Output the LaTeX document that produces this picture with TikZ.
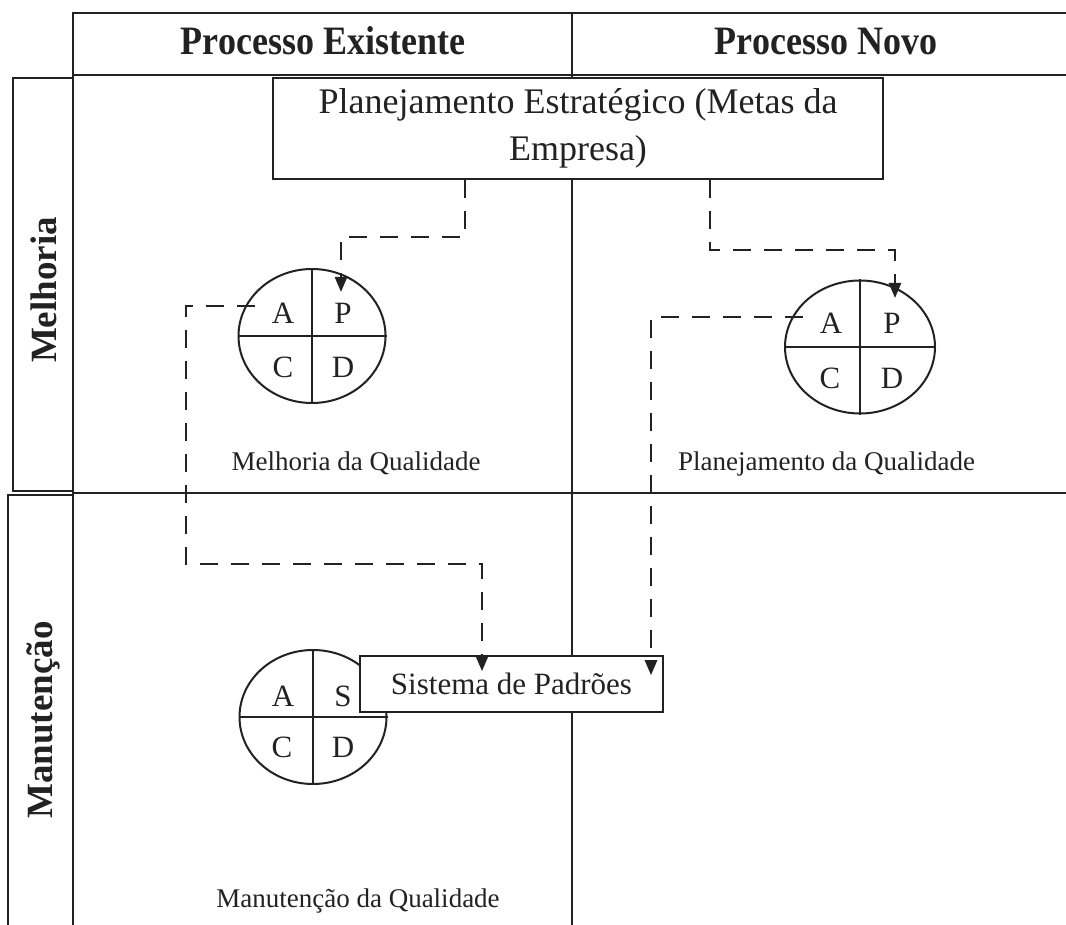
\documentclass[tikz,border=0pt]{standalone}
\usepackage{fontspec}
\usepackage{graphicx}
\setmainfont{Liberation Serif}
\usetikzlibrary{arrows.meta,shapes.geometric,calc}
\definecolor{ink}{HTML}{222222}

\begin{document}
\begin{tikzpicture}[x=1pt,y=-1pt,
  frame/.style={draw=ink,line width=1.8pt},
  hdr/.style={text=ink,inner sep=0pt,anchor=base,font=\fontsize{36}{40}\selectfont\bfseries},
  rowlab/.style={text=ink,inner sep=0pt,anchor=base,rotate=90,font=\fontsize{37}{40}\selectfont\bfseries},
  planbox/.style={draw=ink,line width=1.6pt,fill=white,inner sep=0pt,align=center,text=ink,
    font=\fontsize{36}{47}\selectfont},
  pdca/.style={ellipse,draw=ink,line width=2pt,inner sep=0pt,minimum width=147pt,minimum height=134pt},
  quad/.style={draw=ink,line width=1.2pt},
  letter/.style={text=ink,inner sep=0pt,font=\fontsize{31}{34}\selectfont},
  caption/.style={text=ink,inner sep=0pt,anchor=base,font=\fontsize{27}{30}\selectfont},
  stdbox/.style={draw=ink,line width=1.6pt,fill=white,inner sep=0pt,minimum width=303pt,minimum height=56pt,
    text=ink,font=\fontsize{31}{34}\selectfont},
  flow/.style={draw=ink,line width=2.6pt,dash pattern=on 18pt off 13pt,
    -{Triangle[length=15pt,width=12pt]}}
]
\useasboundingbox (0,0) rectangle (1066,925);
\fill[white] (0,0) rectangle (1066,925);

% table grid
\draw[frame] (1066,13) -- (73,13) -- (73,925);
\draw[frame] (73,75) -- (1066,75);
\draw[frame] (572,13) -- (572,925);
\draw[frame,line width=2.6pt] (73,493) -- (1066,493);
\draw[frame] (13,78) rectangle (73,491);
\draw[frame] (8,930) -- (8,495) -- (73,495);

% column headers
\node[hdr] (hexist) at (323,55) {\scalebox{1}[1.12]{Processo Existente}};
\node[hdr] (hnovo) at (826,55) {\scalebox{1}[1.12]{Processo Novo}};

% row labels
\node[rowlab] (rmelhoria) at (56,290) {Melhoria};
\node[rowlab] (rmanut) at (52,720) {Manutenção};

% strategic planning box
\node[planbox,minimum width=610pt,minimum height=101pt] (plan) at (578,128.5)
  {Planejamento Estratégico (Metas da\\Empresa)};

% PDCA: quality improvement
\node[pdca] (c1) at (312,336) {};
\draw[quad] (c1.north) -- (c1.south);
\draw[quad] (c1.west) -- (c1.east);
\node[letter] (c1a) at ($(c1.center)+(-29,-23)$) {A};
\node[letter] (c1p) at ($(c1.center)+(31,-23)$) {P};
\node[letter] (c1c) at ($(c1.center)+(-29,31)$) {C};
\node[letter] (c1d) at ($(c1.center)+(31,31)$) {D};
\node[caption] (cap1) at (356,470) {Melhoria da Qualidade};

% PDCA: quality planning
\node[pdca,minimum width=150pt,minimum height=133pt] (c2) at (860,347) {};
\draw[quad] (c2.north) -- (c2.south);
\draw[quad] (c2.west) -- (c2.east);
\node[letter] (c2a) at ($(c2.center)+(-29,-24)$) {A};
\node[letter] (c2p) at ($(c2.center)+(32,-24)$) {P};
\node[letter] (c2c) at ($(c2.center)+(-30,31)$) {C};
\node[letter] (c2d) at ($(c2.center)+(32,31)$) {D};
\node[caption] (cap2) at (826.5,470) {Planejamento da Qualidade};

% SDCA: quality maintenance
\node[pdca] (c3) at (313,717) {};
\draw[quad] (c3.north) -- (c3.south);
\draw[quad] (c3.west) -- (c3.east);
\node[letter] (c3a) at ($(c3.center)+(-30,-21)$) {A};
\node[letter] (c3s) at ($(c3.center)+(30,-21)$) {S};
\node[letter] (c3c) at ($(c3.center)+(-31,30)$) {C};
\node[letter] (c3d) at ($(c3.center)+(30,30)$) {D};
\node[caption] (cap3) at (358,907) {Manutenção da Qualidade};

% standards system
\node[stdbox] (sp) at (511.5,684) {Sistema de Padrões};

% dashed flows
\coordinate (k1) at (465,237);
\coordinate (k2) at (710,250);
\coordinate (k3) at (186,564);
\draw[flow] (plan.south -| k1) -- (k1) -| ($(c1.center)+(29,-44)$);
\draw[flow] (plan.south -| k2) -- (k2) -| ($(c2.center)+(35,-49)$);
\draw[flow] ($(c1.center)+(-57,-30)$) -| (k3) -| ($(sp.north)+(-29.5,16)$);
\draw[flow] ($(c2.center)+(-57,-30)$) -| ($(sp.north)+(139.5,20)$);
\end{tikzpicture}
\end{document}
